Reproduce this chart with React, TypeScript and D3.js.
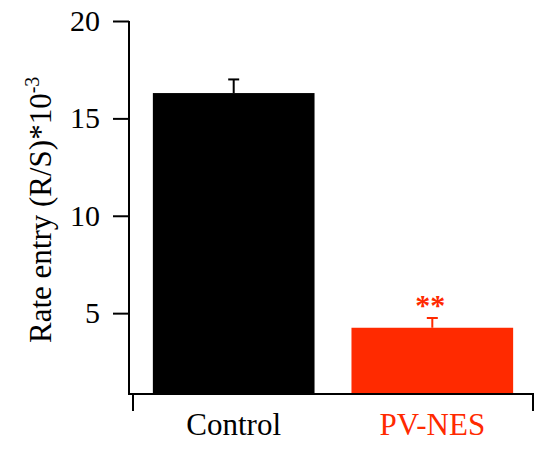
import React, { useEffect, useRef } from 'react';
import * as d3 from 'd3';

const groups = ['Control', 'PV-NES'];
const means = [16.3, 4.25];
const errors = [0.7, 0.5];
const barColors = ['#000000', '#ff2a00'];
const yTicks = [5, 10, 15, 20];
const sigMarks = ['', '**'];

const WIDTH = 540;
const HEIGHT = 449;
const FONT = "'Liberation Serif', 'Times New Roman', serif";

const App = () => {
  const svgRef = useRef<SVGSVGElement>(null);

  useEffect(() => {
    const svg = d3.select(svgRef.current);
    svg.selectAll('*').remove();

    const y = d3.scaleLinear().domain([0.9, 20]).range([393, 21]);
    const x = d3.scaleBand()
      .domain(groups)
      .range([133, 533])
      .paddingInner(0.186)
      .paddingOuter(0.1);

    // bars
    svg.selectAll('.bar')
      .data(groups)
      .enter().append('rect')
      .attr('class', 'bar')
      .attr('x', d => x(d)!)
      .attr('width', x.bandwidth())
      .attr('y', (d, i) => y(means[i]))
      .attr('height', (d, i) => y.range()[0] - y(means[i]))
      .attr('fill', (d, i) => barColors[i]);

    // error bars (upper only)
    groups.forEach((g, i) => {
      const cx = x(g)! + x.bandwidth() / 2;
      const col = barColors[i];
      svg.append('line')
        .attr('x1', cx).attr('x2', cx)
        .attr('y1', y(means[i])).attr('y2', y(means[i] + errors[i]))
        .attr('stroke', col).attr('stroke-width', 2);
      svg.append('line')
        .attr('x1', cx - 5.5).attr('x2', cx + 5.5)
        .attr('y1', y(means[i] + errors[i])).attr('y2', y(means[i] + errors[i]))
        .attr('stroke', col).attr('stroke-width', 2);
      if (sigMarks[i]) {
        svg.append('text')
          .attr('x', cx - 2)
          .attr('y', y(means[i] + errors[i]) - 3)
          .attr('text-anchor', 'middle')
          .attr('font-family', FONT)
          .attr('font-weight', 'bold')
          .attr('font-size', 30)
          .attr('fill', col)
          .text(sigMarks[i]);
      }
    });

    // y axis
    const yAxis = svg.append('g')
      .attr('transform', 'translate(129,0)')
      .call(d3.axisLeft(y).tickValues(yTicks).tickSize(16).tickSizeOuter(0).tickPadding(13));
    yAxis.select('.domain').attr('stroke', '#000').attr('stroke-width', 2)
      .attr('d', `M0,${y(20)}V395`);
    yAxis.selectAll('.tick line').attr('stroke', '#000').attr('stroke-width', 2);
    yAxis.selectAll('.tick text')
      .attr('font-family', FONT)
      .attr('font-size', 30)
      .attr('fill', '#000');

    // x axis
    const [x0, x1] = x.range();
    svg.append('line')
      .attr('x1', 128).attr('x2', x1 + 1)
      .attr('y1', 394).attr('y2', 394)
      .attr('stroke', '#000').attr('stroke-width', 2);
    [x0, x1].forEach(px => {
      svg.append('line')
        .attr('x1', px).attr('x2', px)
        .attr('y1', 394).attr('y2', 411)
        .attr('stroke', '#000').attr('stroke-width', 2);
    });

    svg.selectAll('.xlabel')
      .data(groups)
      .enter().append('text')
      .attr('class', 'xlabel')
      .attr('x', d => x(d)! + x.bandwidth() / 2)
      .attr('y', 435)
      .attr('text-anchor', 'middle')
      .attr('font-family', FONT)
      .attr('font-size', 31)
      .attr('fill', (d, i) => barColors[i])
      .text(d => d);

    // y axis label
    const label = svg.append('text')
      .attr('transform', 'translate(51,343) rotate(-90)')
      .attr('text-anchor', 'start')
      .attr('font-family', FONT)
      .attr('font-size', 31)
      .attr('fill', '#000');
    label.append('tspan').text('Rate entry (R/S)*10');
    label.append('tspan')
      .attr('font-size', 20)
      .attr('dy', -12)
      .text('-3');
  }, []);

  return (
    <svg
      ref={svgRef}
      width={WIDTH}
      height={HEIGHT}
      style={{ position: 'absolute', left: 0, top: 0, background: '#fff' }}
    />
  );
};

export default App;
